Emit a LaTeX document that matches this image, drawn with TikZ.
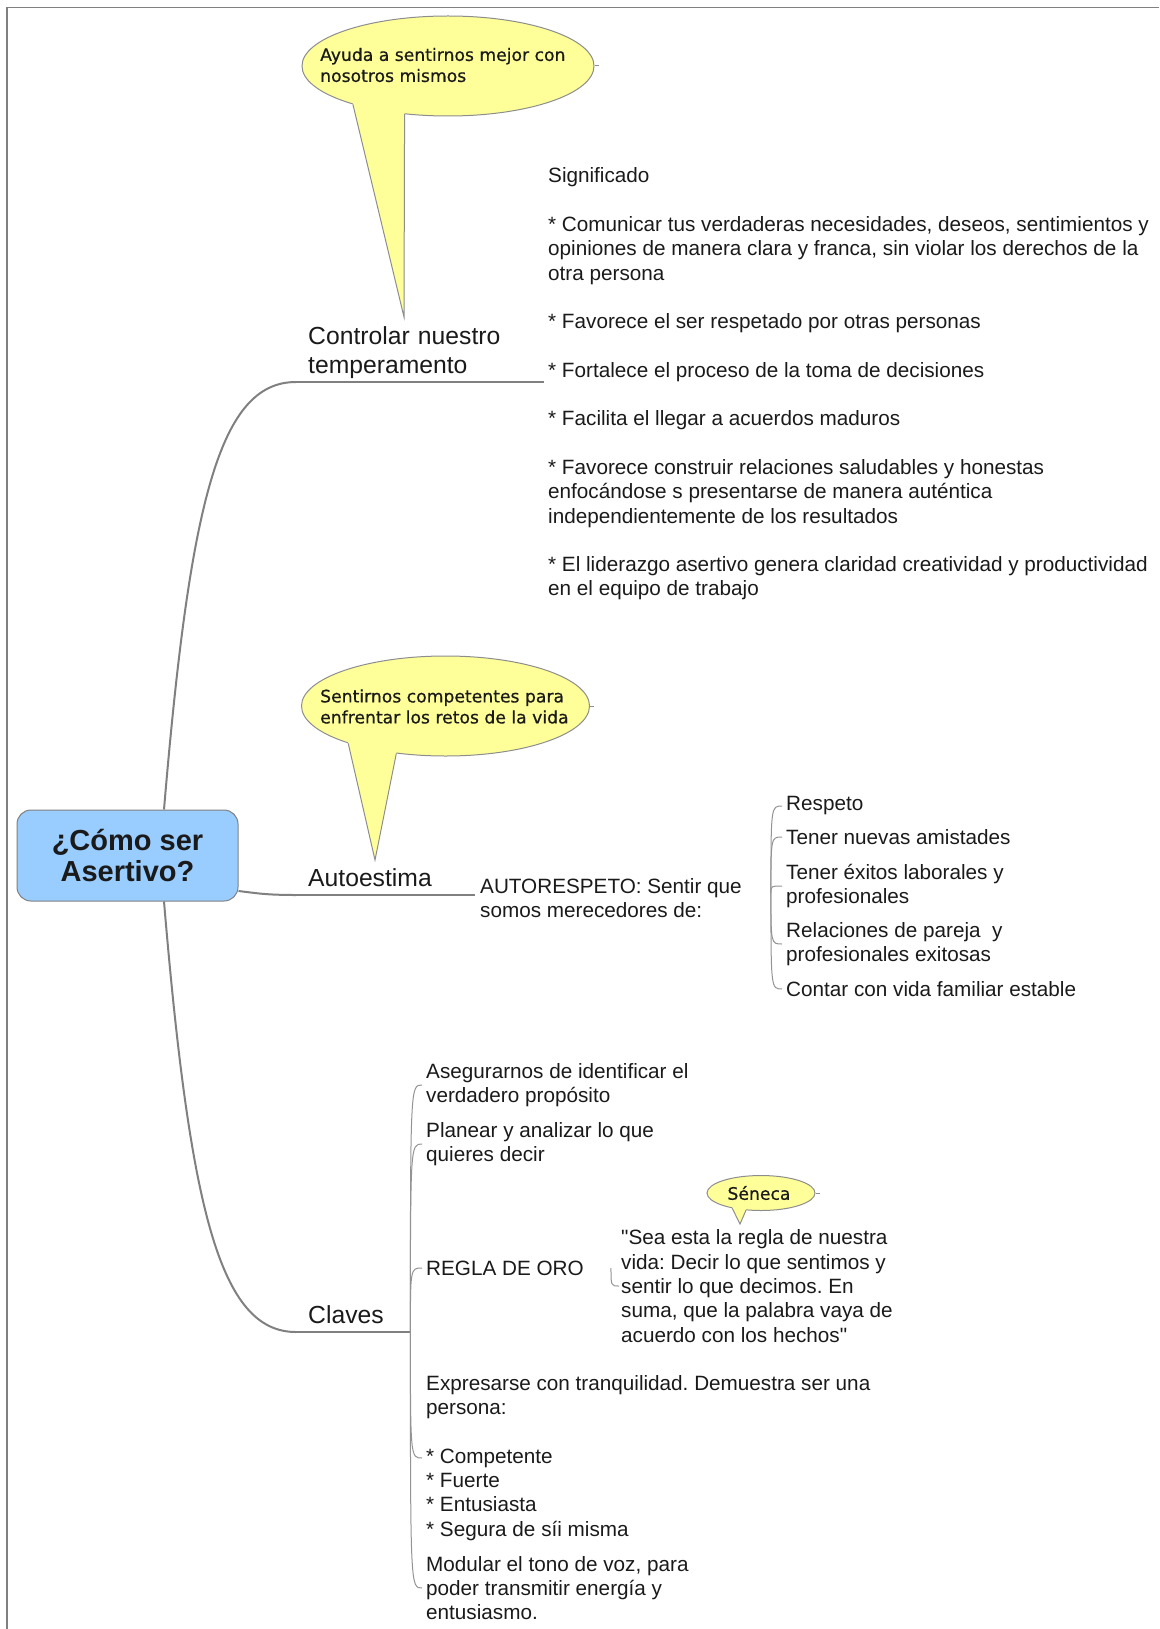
\documentclass[tikz,border=0pt]{standalone}
\usepackage{fontspec}
\setmainfont{Liberation Sans}
\newfontfamily\bubblefont[FakeBold=0.6]{DejaVu Sans}
\usetikzlibrary{shapes.geometric}
\frenchspacing
\definecolor{rootblue}{HTML}{99CCFF}
\definecolor{bubbleyellow}{HTML}{FFFF99}
\definecolor{linegray}{HTML}{808080}
\definecolor{textblack}{HTML}{1A1A1A}
\tikzset{
  root/.style={
    % The shape:
    rectangle, rounded corners=14pt,
    % The size:
    minimum width=221pt, minimum height=91pt,
    % The border:
    line width=1pt, draw=linegray,
    % The filling:
    fill=rootblue,
    font=\fontsize{29}{31}\selectfont\bfseries, align=center},
  bubble/.style={
    % The shape:
    ellipse, inner sep=0pt,
    % The border:
    line width=1pt, draw=linegray!90,
    % The filling:
    fill=bubbleyellow},
  bubbletext/.style={
    % The shape:
    inner sep=0pt,
    % The rest
    align=left, font=\bubblefont\fontsize{17.2}{21}\selectfont},
  topic/.style={
    % The shape:
    anchor=south west, text width=#1,
    % The rest
    inner xsep=12pt, inner ysep=0pt, align=left,
    font=\fontsize{24.7}{29}\selectfont},
  leaf/.style={
    % The shape:
    anchor=west,
    % The rest
    inner xsep=4pt, inner ysep=0pt, align=left,
    font=\fontsize{20.7}{24.3}\selectfont},
  branch/.style={to path={.. controls (\tikztostart |- \tikztotarget) .. (\tikztotarget)}}
}

\begin{document}
\begin{tikzpicture}[x=1pt,y=-1pt,every node/.append style={text=textblack},
                    frame/.style={draw=linegray,line width=1.5pt},
                    mainline/.style={draw=linegray,line width=2pt},
                    topicline/.style={draw=linegray,line width=1.4pt},
                    subline/.style={draw=linegray!85,line width=1pt},
                    bubbleedge/.style={draw=linegray!90,line width=1pt}]
  \useasboundingbox (0,0) rectangle (1159,1629);
  \draw[frame] (7,1629) -- (7,7.5) -- (1159,7.5);

  % central topic and the three branches
  \node[root] (root) at (127.5,855.5) {¿Cómo ser\\Asertivo?};
  \node[topic=224pt] (ctrl)   at (296,382)  {Controlar nuestro\\temperamento\strut};
  \node[topic=155pt] (auto)   at (296,895)  {Autoestima\strut};
  \node[topic=90pt]  (claves) at (296,1332) {Claves\strut};

  \draw[mainline] ([xshift=36.5pt]root.north) .. controls +(26,-310) and +(-76,0) .. (ctrl.south west);
  \draw[mainline] ([yshift=-35.5pt]root.east) .. controls +(17,2) and +(-31,0) .. (auto.south west);
  \draw[mainline] ([xshift=36.5pt]root.south) .. controls +(26,309) and +(-76,0) .. (claves.south west);
  \foreach \t in {ctrl,auto,claves}
    \draw[topicline] (\t.south west) -- (\t.south east);

  % callouts
  \node[bubble, minimum width=292pt, minimum height=100pt] (bub1) at (448,66) {};
  \node[bubble, minimum width=288pt, minimum height=100pt] (bub2) at (445.5,706) {};
  \node[bubble, minimum width=108pt, minimum height=35pt]  (sen)  at (761,1193) {};
  \node[bubbletext, anchor=west] (bub1t) at (320,65) {Ayuda a sentirnos mejor con\\nosotros mismos};
  \node[bubbletext, anchor=west] (bub2t) at (320,706.5) {Sentirnos competentes para\\enfrentar los retos de la vida};
  \node[bubbletext] (sent) at (759,1193) {Séneca};
  \coordinate (tip1) at (404,317);
  \coordinate (tip2) at (375,860);
  \coordinate (tip3) at (740,1224);
  \foreach \b/\p/\l/\r/\s in {bub1/tip1/202/228/5pt,bub2/tip2/201/224/5pt,sen/tip3/208/229/3pt} {
    \fill[bubbleyellow] (\b.\l) -- (\p) -- (\b.\r) -- ([yshift=\s]\b.\r) -- ([yshift=\s]\b.\l) -- cycle;
    \draw[bubbleedge] (\b.\l) -- (\p) -- (\b.\r);
    \draw[bubbleedge] (\b.east) -- ++(4,0);
  }

  % Controlar nuestro temperamento
  \node[leaf, inner xsep=0pt] (sig) at (548,384) {Significado\\[24.3pt]
    * Comunicar tus verdaderas necesidades, deseos, sentimientos y\\
    opiniones de manera clara y franca, sin violar los derechos de la\\
    otra persona\\[24.3pt]
    * Favorece el ser respetado por otras personas\\[24.3pt]
    * Fortalece el proceso de la toma de decisiones\\[24.3pt]
    * Facilita el llegar a acuerdos maduros\\[24.3pt]
    * Favorece construir relaciones saludables y honestas\\
    enfocándose s presentarse de manera auténtica\\
    independientemente de los resultados\\[24.3pt]
    * El liderazgo asertivo genera claridad creatividad y productividad\\
    en el equipo de trabajo};

  % Autoestima
  \node[leaf, inner xsep=0pt] (arp) at (480,898) {AUTORESPETO: Sentir que\\somos merecedores de:};
  \coordinate (arpR) at ([xshift=29pt,yshift=5pt]arp.east);
  \node[leaf] (respeto)  at (782,806) {Respeto};
  \node[leaf] (amistad)  at (782,837) {Tener nuevas amistades};
  \node[leaf] (exitos)   at (782,886) {Tener éxitos laborales y\\profesionales};
  \node[leaf] (pareja)   at (782,944) {Relaciones de pareja \ y\\profesionales exitosas};
  \node[leaf] (familiar) at (782,989) {Contar con vida familiar estable};
  \foreach \n in {respeto,amistad,exitos,pareja,familiar}
    \draw[subline] (arpR) to[branch] (\n.west);

  % Claves
  \node[leaf] (aseg)    at (422,1085) {Asegurarnos de identificar el\\verdadero propósito};
  \node[leaf] (planear) at (422,1144) {Planear y analizar lo que\\quieres decir};
  \node[leaf] (regla)   at (422,1268) {REGLA DE ORO};
  \node[leaf] (expresa) at (422,1458) {Expresarse con tranquilidad. Demuestra ser una\\persona:\\[24.3pt]
    {*} Competente\\{*} Fuerte\\{*} Entusiasta\\{*} Segura de síi misma};
  \node[leaf] (modular) at (422,1588) {Modular el tono de voz, para\\poder transmitir energía y\\entusiasmo.};
  \foreach \n in {aseg,planear,regla,expresa,modular}
    \draw[subline] (claves.south east) to[branch] (\n.west);

  \node[leaf, inner xsep=2pt] (quote) at (619,1286) {\textquotedbl Sea esta la regla de nuestra\\vida: Decir lo que sentimos y\\sentir lo que decimos. En\\suma, que la palabra vaya de\\acuerdo con los hechos\textquotedbl};
  \coordinate (reglaR) at ([xshift=23pt]regla.east);
  \draw[subline] (reglaR) to[branch] (quote.west);
\end{tikzpicture}
\end{document}
